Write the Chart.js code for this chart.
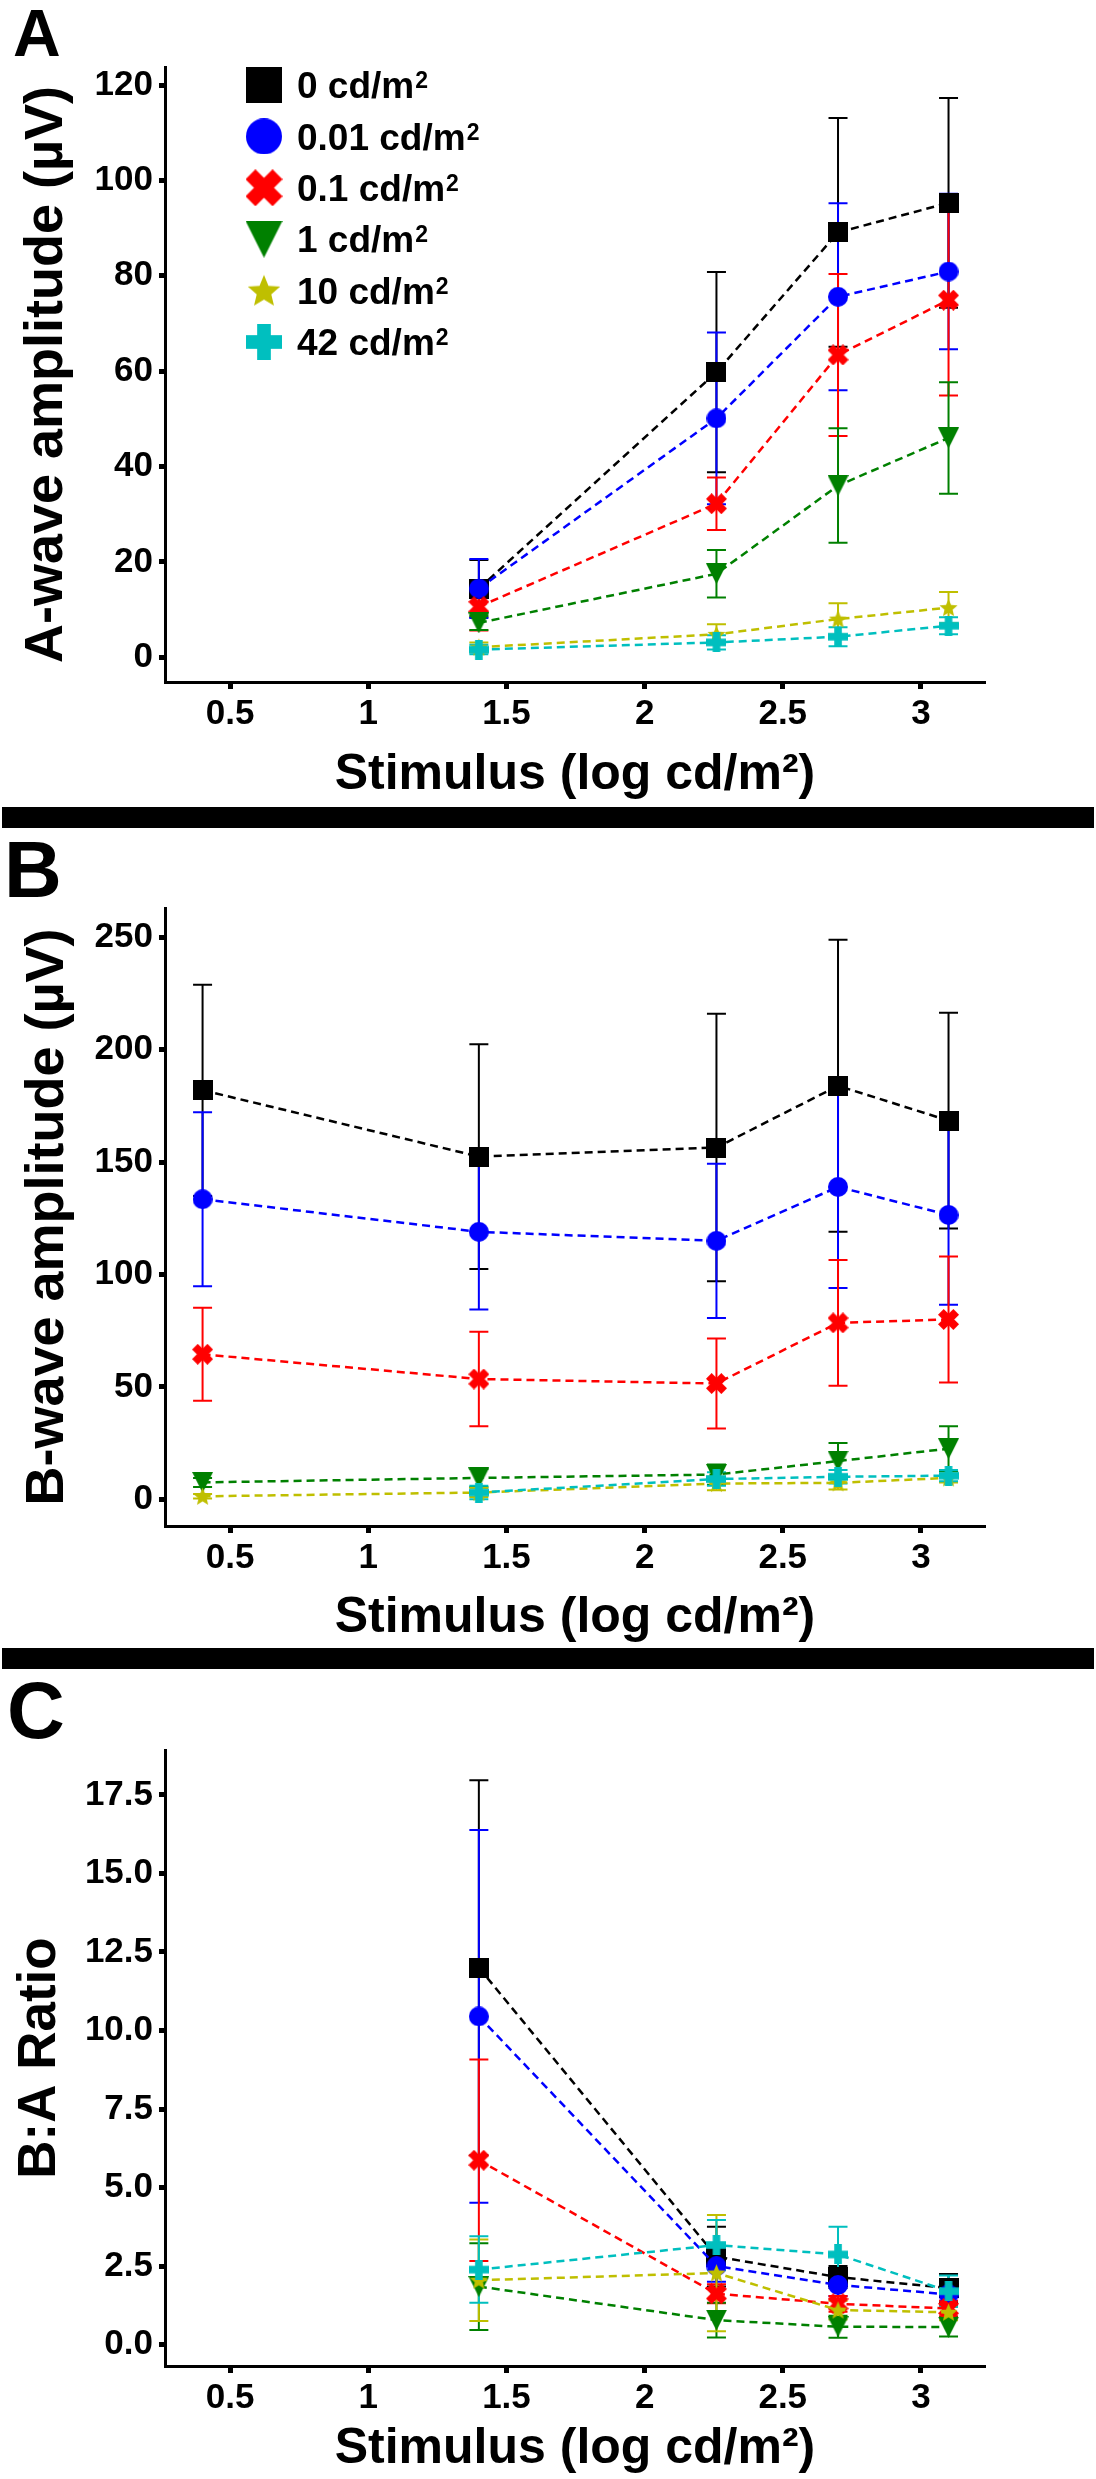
<!DOCTYPE html>
<html>
<head>
<meta charset="utf-8">
<script src="https://cdn.jsdelivr.net/npm/chart.js@4/dist/chart.umd.min.js"></script>
<style>
  html, body { margin: 0; padding: 0; background: #fff; }
  #page { position: relative; width: 1096px; height: 2479px; overflow: hidden; }
  canvas { position: absolute; left: 0; }
  .panel-letter { position: absolute; font-family: 'Liberation Sans', Arial, sans-serif; font-weight: bold; line-height: 1; color: #000; z-index: 2; }
  .divider { position: absolute; left: 2px; width: 1092px; background: #000; }
</style>
</head>
<body>
<div id="page">
  <canvas id="chart-a" width="1096" height="805" style="top:0px"></canvas>
  <canvas id="chart-b" width="1096" height="818" style="top:830px"></canvas>
  <canvas id="chart-c" width="1096" height="809" style="top:1670px"></canvas>
  <div class="panel-letter" style="left:13px; top:0px; font-size:66px">A</div>
  <div class="panel-letter" style="left:4px; top:830px; font-size:80px">B</div>
  <div class="panel-letter" style="left:7px; top:1671px; font-size:80px">C</div>
  <div class="divider" style="top:807px; height:21px"></div>
  <div class="divider" style="top:1648px; height:21px"></div>
</div>
<script>
// stimulus positions (log cd/m2)
const xA = [1.4, 2.26, 2.7, 3.1];
const xB = [0.4, 1.4, 2.26, 2.7, 3.1];

const xTicks = [0.5, 1, 1.5, 2, 2.5, 3];
const xTickLabels = ['0.5', '1', '1.5', '2', '2.5', '3'];
const aTicks = [0, 20, 40, 60, 80, 100, 120];
const bTicks = [0, 50, 100, 150, 200, 250];
const cTicks = [0, 2.5, 5, 7.5, 10, 12.5, 15, 17.5];
const cTickLabels = ['0.0', '2.5', '5.0', '7.5', '10.0', '12.5', '15.0', '17.5'];

const seriesLabels = ['0 cd/m²', '0.01 cd/m²', '0.1 cd/m²', '1 cd/m²', '10 cd/m²', '42 cd/m²'];
const seriesColors = ['#000000', '#0000ff', '#ff0000', '#008000', '#bfbf00', '#00bfbf'];
const seriesShapes = ['square', 'circle', 'x', 'triangleDown', 'star', 'plus'];

// A-wave amplitude, one row per background luminance
const aMean = [
  [14.4, 59.8, 89.1, 95.3],
  [14.4, 50.1, 75.6, 80.9],
  [10.6, 32.2, 63.4, 74.9],
  [7.2, 17.5, 36.0, 46.0],
  [2.1, 4.8, 8.0, 10.4],
  [1.6, 3.1, 4.3, 6.6]
];
const aErr = [
  [6.0, 21.0, 24.0, 22.0],
  [6.2, 18.0, 19.6, 16.3],
  [5.0, 5.5, 17.0, 20.0],
  [1.5, 5.0, 12.0, 11.7],
  [1.0, 2.1, 3.3, 3.3],
  [1.0, 1.5, 2.0, 1.8]
];

// B-wave amplitude
const bMean = [
  [182, 152.5, 156.5, 184, 168.5],
  [133.5, 119, 115, 139, 126.5],
  [64.5, 53.5, 51.5, 78.5, 80],
  [7.5, 9.5, 11, 17, 22.5],
  [1.3, 3, 7, 7.3, 9.5],
  [null, 3, 9, 10, 10.5]
];
const bErr = [
  [47, 50, 59.5, 65, 48],
  [38.7, 34.6, 34.3, 45, 40],
  [20.7, 21, 20, 28, 28],
  [2, 4, 4.5, 8, 10],
  [1, 2, 3, 3, 2],
  [null, 3, 3, 3, 2.5]
];

// B:A ratio
const cMean = [
  [12.0, 2.8, 2.15, 1.8],
  [10.45, 2.5, 1.9, 1.6],
  [5.87, 1.62, 1.3, 1.15],
  [1.85, 0.78, 0.57, 0.56],
  [2.05, 2.28, 1.1, 1.03],
  [2.39, 3.17, 2.87, 1.7]
];
const cErr = [
  [5.97, 0.95, 0.35, 0.45],
  [5.93, 0.5, 0.35, 0.35],
  [3.21, 0.3, 0.25, 0.25],
  [1.38, 0.55, 0.35, 0.3],
  [1.3, 1.85, 0.3, 0.25],
  [1.06, 0.8, 0.88, 0.5]
];

const fontFamily = "'Liberation Sans', Arial, sans-serif";

document.addEventListener('DOMContentLoaded', () => {
  const plotMarkers = seriesShapes.map((s, i) => makeMarker(s, seriesColors[i], markerSize(s, false)));
  const legendMarkers = seriesShapes.map((s, i) => makeMarker(s, seriesColors[i], markerSize(s, true)));

  // vertical SEM bars under every series' markers
  const errorBars = {
    id: 'errorBars',
    beforeDatasetsDraw(chart) {
      const { ctx } = chart;
      const xScale = chart.scales.x;
      const yScale = chart.scales.y;
      const cap = 9.5;
      ctx.save();
      ctx.lineWidth = 2;
      chart.data.datasets.forEach(ds => {
        ctx.strokeStyle = ds.borderColor;
        ds.data.forEach(p => {
          const px = xScale.getPixelForValue(p.x);
          const top = yScale.getPixelForValue(p.y + p.err);
          const bottom = yScale.getPixelForValue(p.y - p.err);
          ctx.beginPath();
          ctx.moveTo(px, top);
          ctx.lineTo(px, bottom);
          ctx.moveTo(px - cap, top);
          ctx.lineTo(px + cap, top);
          ctx.moveTo(px - cap, bottom);
          ctx.lineTo(px + cap, bottom);
          ctx.stroke();
        });
      });
      ctx.restore();
    }
  };

  // legend block inside panel A, with a raised "2" like the original
  const markerLegend = {
    id: 'markerLegend',
    afterDraw(chart) {
      const { ctx } = chart;
      const rowTop = 85;
      const rowStep = 51.4;
      const size = 37;
      const supSize = 23;
      ctx.save();
      ctx.fillStyle = '#000';
      ctx.textBaseline = 'alphabetic';
      ctx.textAlign = 'left';
      seriesLabels.forEach((label, i) => {
        const cy = rowTop + i * rowStep;
        const img = legendMarkers[i];
        ctx.drawImage(img, 264 - img.width / 2, cy - img.height / 2);
        const base = label.replace('²', '');
        const baseline = cy + size * 0.358;
        ctx.font = `bold ${size}px ${fontFamily}`;
        ctx.fillText(base, 297, baseline);
        const w = ctx.measureText(base).width;
        ctx.font = `bold ${supSize}px ${fontFamily}`;
        ctx.fillText('2', 297 + w + 1, baseline - size * 0.716 + supSize * 0.716);
      });
      ctx.restore();
    }
  };

  buildChart('chart-a', {
    xs: xA, means: aMean, errs: aErr,
    yMin: -5.2, yMax: 123.8, yTicks: aTicks, yTickLabels: aTicks.map(String),
    yTitle: 'A-wave amplitude (µV)', yTitleSize: 54, yTitlePad: 15,
    top: 67, xHeight: 123, xTitlePad: 10,
    legend: true
  });

  buildChart('chart-b', {
    xs: xB, means: bMean, errs: bErr,
    yMin: -11.9, yMax: 263.1, yTicks: bTicks, yTickLabels: bTicks.map(String),
    yTitle: 'B-wave amplitude (µV)', yTitleSize: 54, yTitlePad: 16,
    top: 78, xHeight: 122, xTitlePad: 14
  });

  buildChart('chart-c', {
    xs: xA, means: cMean, errs: cErr,
    yMin: -0.68, yMax: 18.93, yTicks: cTicks, yTickLabels: cTickLabels,
    yTitle: 'B:A Ratio', yTitleSize: 53, yTitlePad: 9,
    top: 80, xHeight: 113, xTitlePad: 8
  });

  function buildChart(id, cfg) {
    const datasets = seriesLabels.map((label, i) => {
      const points = [];
      cfg.xs.forEach((x, j) => {
        if (cfg.means[i][j] === null) return;
        points.push({ x: x, y: cfg.means[i][j], err: cfg.errs[i][j] });
      });
      return {
        label: label,
        data: points,
        borderColor: seriesColors[i],
        backgroundColor: seriesColors[i],
        borderWidth: 2.5,
        borderDash: [8, 5],
        showLine: true,
        tension: 0,
        pointStyle: plotMarkers[i],
        pointRadius: 10,
        order: seriesLabels.length - i
      };
    });

    const plugins = [errorBars];
    if (cfg.legend) plugins.push(markerLegend);

    const ctx = document.getElementById(id).getContext('2d');
    return new Chart(ctx, {
      type: 'scatter',
      data: { datasets: datasets },
      plugins: plugins,
      options: {
        responsive: false,
        animation: false,
        devicePixelRatio: 1,
        layout: { padding: { left: 0, right: 111, top: cfg.top, bottom: 0 } },
        plugins: {
          legend: { display: false },
          tooltip: { enabled: false }
        },
        scales: {
          x: {
            type: 'linear',
            min: 0.264,
            max: 3.232,
            afterBuildTicks: (scale) => { scale.ticks = xTicks.map(v => ({ value: v })); },
            afterFit: (scale) => { scale.height = cfg.xHeight; },
            ticks: {
              autoSkip: false,
              maxRotation: 0,
              padding: 4,
              color: '#000',
              font: { family: fontFamily, size: 35, weight: 'bold' },
              callback: (v, i) => xTickLabels[i]
            },
            grid: { drawOnChartArea: false, drawTicks: true, tickLength: 7, tickWidth: 5, tickColor: '#000' },
            border: { display: true, color: '#000', width: 3 },
            title: {
              display: true,
              text: 'Stimulus (log cd/m²)',
              color: '#000',
              font: { family: fontFamily, size: 50, weight: 'bold' },
              padding: { top: cfg.xTitlePad, bottom: 0 }
            }
          },
          y: {
            type: 'linear',
            min: cfg.yMin,
            max: cfg.yMax,
            afterBuildTicks: (scale) => { scale.ticks = cfg.yTicks.map(v => ({ value: v })); },
            afterFit: (scale) => { scale.width = 165; },
            ticks: {
              autoSkip: false,
              padding: 6,
              color: '#000',
              font: { family: fontFamily, size: 35, weight: 'bold' },
              callback: (v, i) => cfg.yTickLabels[i]
            },
            grid: { drawOnChartArea: false, drawTicks: true, tickLength: 6, tickWidth: 5, tickColor: '#000' },
            border: { display: true, color: '#000', width: 3 },
            title: {
              display: true,
              text: cfg.yTitle,
              color: '#000',
              font: { family: fontFamily, size: cfg.yTitleSize, weight: 'bold' },
              padding: { top: cfg.yTitlePad, bottom: 0 }
            }
          }
        }
      }
    });
  }

  function markerSize(shape, big) {
    const sizes = {
      square: [20, 36], circle: [20, 36], x: [21, 37],
      triangleDown: [21, 37], star: [19, 34], plus: [20, 36]
    };
    return sizes[shape][big ? 1 : 0];
  }

  function makeMarker(shape, color, size) {
    const c = document.createElement('canvas');
    c.width = size;
    c.height = size;
    const g = c.getContext('2d');
    const h = size / 2;
    g.fillStyle = color;
    g.translate(h, h);
    if (shape === 'square') {
      g.fillRect(-h, -h, size, size);
    } else if (shape === 'circle') {
      g.beginPath();
      g.arc(0, 0, h, 0, Math.PI * 2);
      g.fill();
    } else if (shape === 'plus' || shape === 'x') {
      const w = size * 0.19;
      let len = h;
      if (shape === 'x') {
        g.rotate(Math.PI / 4);
        len = h * Math.SQRT2 - w;
      }
      g.fillRect(-len, -w, len * 2, w * 2);
      g.fillRect(-w, -len, w * 2, len * 2);
    } else if (shape === 'triangleDown') {
      g.beginPath();
      g.moveTo(-h, -h);
      g.lineTo(h, -h);
      g.lineTo(0, h);
      g.closePath();
      g.fill();
    } else if (shape === 'star') {
      g.beginPath();
      for (let k = 0; k < 10; k++) {
        const r = k % 2 === 0 ? h : h * 0.45;
        const a = -Math.PI / 2 + k * Math.PI / 5;
        const px = r * Math.cos(a);
        const py = r * Math.sin(a) + h * 0.08;
        if (k === 0) g.moveTo(px, py); else g.lineTo(px, py);
      }
      g.closePath();
      g.fill();
    }
    return c;
  }
});
</script>
</body>
</html>
